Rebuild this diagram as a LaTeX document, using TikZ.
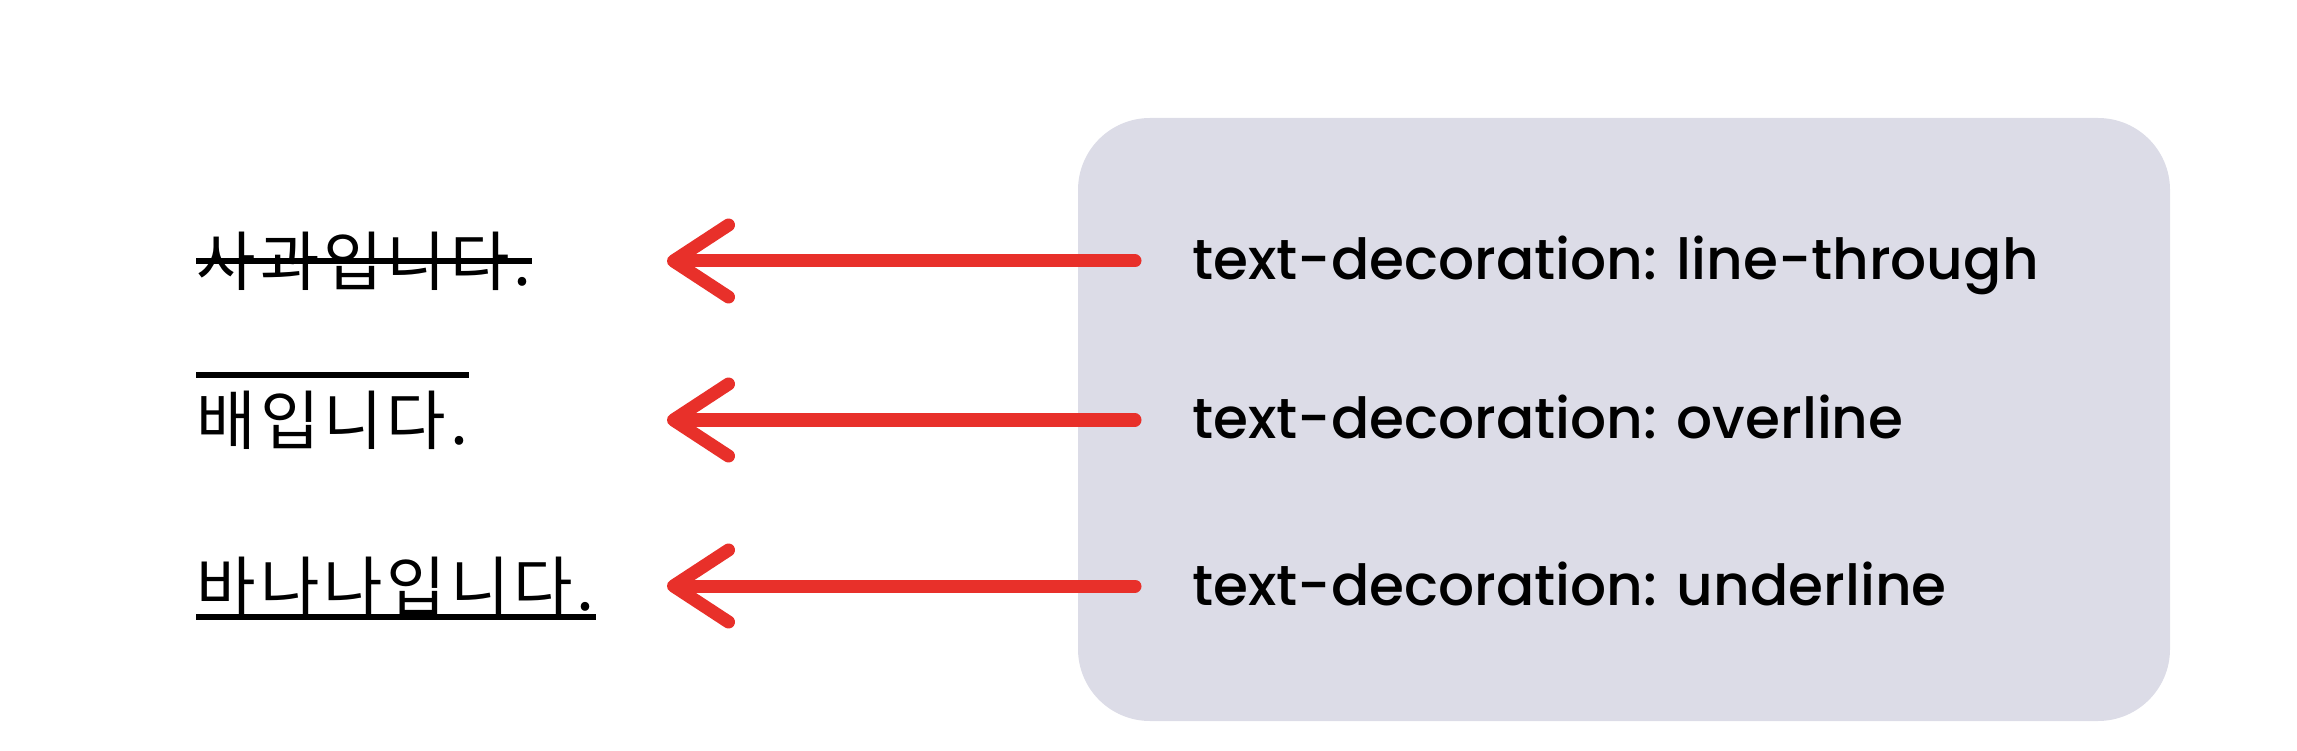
\documentclass[tikz,border=0pt]{standalone}
\usepackage{fontspec}
\setmainfont{Poppins}[UprightFont=* Medium]
\newfontfamily\krfont{Noto Sans CJK KR}[LetterSpace=6]
\usetikzlibrary{arrows.meta}
\definecolor{boxgray}{RGB}{220,220,231}
\definecolor{crayonred}{RGB}{232,48,42}

\begin{document}
\begin{tikzpicture}[
    kor/.style={font=\krfont\fontsize{18.4}{20}\selectfont, inner sep=0pt, anchor=west},
    css/.style={font=\fontsize{16.1}{20}\selectfont, inner sep=0pt, anchor=west, text height=0.46cm, text depth=0.08cm},
    deco/.style={line width=0.06cm},
    arr/.style={crayonred, line width=0.13cm, line cap=round, -{Straight Barb[length=0.55cm, width=0.72cm, line cap=round, line join=round]}}
  ]
  \useasboundingbox (0,0) rectangle (22.97,7.5);

  % 오른쪽 상자
  \fill[boxgray, rounded corners=0.72cm] (10.78,0.29) rectangle (21.70,6.32);

  % CSS 속성
  \node[css] (c1) at (11.92, 4.89) {text-decoration: line-through};
  \node[css] (c2) at (11.92, 3.30) {text-decoration: overline};
  \node[css] (c3) at (11.92, 1.64) {text-decoration: underline};

  % 한국어 문장
  \node[kor] (k1) at (1.96, 4.89) {사과입니다.};
  \node[kor] (k2) at (1.96, 3.30) {배입니다.};
  \node[kor] (k3) at (1.96, 1.64) {바나나입니다.};

  % line-through, overline, underline
  \draw[deco] (k1.west) -- (k1.east);
  \draw[deco] ([yshift=0.45cm]k2.west) -- ([yshift=0.45cm]k2.east);
  \draw[deco] ([yshift=-0.31cm]k3.west) -- ([yshift=-0.31cm]k3.east);

  % 화살표
  \coordinate (tip1) at (6.67, 4.89);
  \coordinate (tip2) at (6.67, 3.30);
  \coordinate (tip3) at (6.67, 1.64);

  \draw[arr] ([xshift=-0.57cm]c1.west) -- (tip1);
  \draw[arr] ([xshift=-0.57cm]c2.west) -- (tip2);
  \draw[arr] ([xshift=-0.57cm]c3.west) -- (tip3);
\end{tikzpicture}
\end{document}
